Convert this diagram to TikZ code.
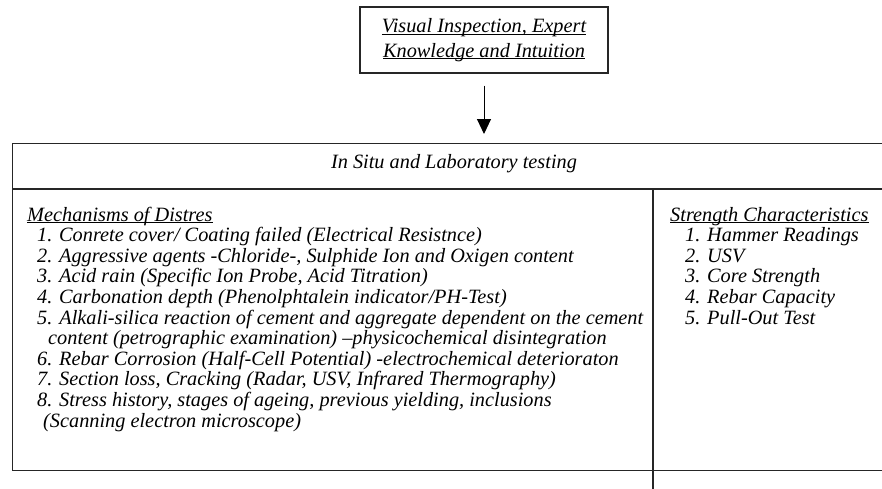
\documentclass[tikz,border=0pt]{standalone}
\usepackage{fontspec}
\setmainfont{Liberation Serif}
\usetikzlibrary{arrows.meta}
% underline sitting just below the baseline
\newcommand\ulin[1]{\setbox0\hbox{#1}\rlap{\rule[-2pt]{\wd0}{0.9pt}}\box0}
% stacked lines whose reference point is the first baseline
\newcommand\stackl[1]{\vtop{\lineskiplimit=-20pt\halign{##\hfil\cr#1\crcr}}}
\newcommand\stackc[1]{\vtop{\lineskiplimit=-20pt\halign{\hfil##\hfil\cr#1\crcr}}}
\begin{document}
\begin{tikzpicture}[x=1pt,y=-1pt,
  rule/.style={line width=1.4pt, draw=black!85},
  txt/.style={font=\fontsize{20.3}{20.6}\selectfont\itshape, inner sep=0pt, anchor=base west},
  flow/.style={line width=1pt, -{Triangle[length=15pt,width=14pt]}},
]
\useasboundingbox[fill=white] (0,0) rectangle (882,488);

% source box
\node[rule, draw, anchor=base, minimum width=248, minimum height=66, inner sep=0pt,
  font=\fontsize{20.3}{24.5}\selectfont\itshape] (vis) at (484,32.5)
  {\stackc{\ulin{Visual Inspection, Expert}\cr\ulin{Knowledge and Intuition}}};

% testing table frame
\node[rule, draw, anchor=north west, minimum width=884, minimum height=327, inner sep=0pt] (tab) at (12,143) {};
\draw[rule] (12,189) -- (900,189);
\draw[rule] (653,189) -- (653,494);

\draw[flow, shorten <=12pt, shorten >=9pt] (vis.south) -- (vis.south |- tab.north);

\node[txt, anchor=base] (hdr) at (454,168) {In Situ and Laboratory testing};

\node[txt] (mech) at (27,221) {\stackl{\ulin{Mechanisms of Distres}\cr
\hspace*{10pt}1. Conrete cover/ Coating failed (Electrical Resistnce)\cr
\hspace*{10pt}2. Aggressive agents -Chloride-, Sulphide Ion and Oxigen content\cr
\hspace*{10pt}3. Acid rain (Specific Ion Probe, Acid Titration)\cr
\hspace*{10pt}4. Carbonation depth (Phenolphtalein indicator/PH-Test)\cr
\hspace*{10pt}\makebox[606pt][s]{5. Alkali-silica reaction of cement and aggregate dependent on the cement}\cr
\hspace*{21pt}content (petrographic examination) –physicochemical disintegration\cr
\hspace*{10pt}6. Rebar Corrosion (Half-Cell Potential) -electrochemical deterioraton\cr
\hspace*{10pt}7. Section loss, Cracking (Radar, USV, Infrared Thermography)\cr
\hspace*{10pt}8. Stress history, stages of ageing, previous yielding, inclusions\cr
\hspace*{16pt}(Scanning electron microscope)}};

\node[txt] (str) at (670,221) {\stackl{\ulin{Strength Characteristics}\cr
\hspace*{15pt}1. Hammer Readings\cr
\hspace*{15pt}2. USV\cr
\hspace*{15pt}3. Core Strength\cr
\hspace*{15pt}4. Rebar Capacity\cr
\hspace*{15pt}5. Pull-Out Test}};
\end{tikzpicture}
\end{document}
